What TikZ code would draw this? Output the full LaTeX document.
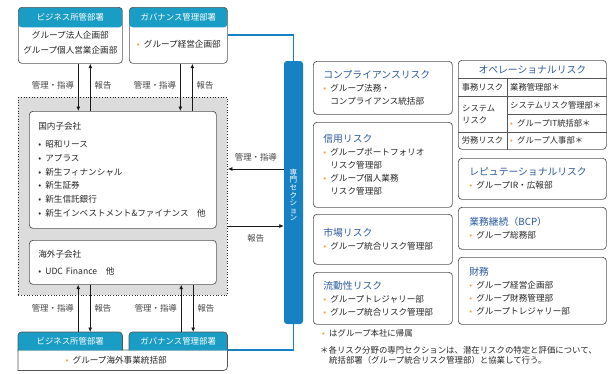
\documentclass[tikz,border=0pt]{standalone}
\usepackage{fontspec}
\setmainfont{Noto Sans CJK JP}
\usepackage{tikz}
\usetikzlibrary{arrows.meta,positioning,calc}
\definecolor{inkgray}{HTML}{262626}
\definecolor{labelgray}{HTML}{444444}
\definecolor{framegray}{HTML}{555555}
\definecolor{zonegray}{HTML}{DCDCDC}
\definecolor{headteal}{HTML}{1A9DC4}
\definecolor{barblue}{HTML}{1681C3}
\definecolor{titleblue}{HTML}{2A5A9C}
\definecolor{dotorange}{HTML}{F2A440}
\newcommand{\obul}{\makebox[7pt][l]{\textcolor{dotorange}{\textbullet}}}
\newcommand{\kbul}{\makebox[7pt][l]{\textbullet}}
\newcommand{\hang}{\hspace*{7pt}}
\newcommand{\risktitle}[1]{{\color{titleblue}\fontsize{9.8}{13}\selectfont #1}}
\tikzset{unitbox/.style={draw=framegray,fill=white,rounded corners=3.5pt,
  line width=0.7pt,inner sep=0pt,anchor=north west},
  headfill/.style={path picture={\fill[headteal] (path picture bounding box.north west)
   rectangle ([yshift=-20pt]path picture bounding box.north east);}},
  headtext/.style={text=white,font=\fontsize{8.4}{10}\selectfont,inner sep=0pt},
  bodytext/.style={text=inkgray,font=\fontsize{8.6}{15}\selectfont,align=center,inner sep=0pt},
  subbox/.style={unitbox,text width=169pt,align=left,inner xsep=9pt,
  font=\fontsize{8.6}{13.8}\selectfont,text=inkgray},
  riskbox/.style={unitbox,text width=119pt,align=left,inner xsep=10pt,
  font=\fontsize{8.6}{13}\selectfont,text=inkgray},
  rbox/.style={riskbox,text width=126pt,inner xsep=11pt},
  celltext/.style={text=inkgray,font=\fontsize{8.3}{12}\selectfont,inner sep=0pt},
  notetext/.style={text=inkgray,font=\fontsize{8.4}{10.5}\selectfont,inner sep=0pt},
  flow/.style={-{Latex[length=4.5pt,width=4pt]},line width=0.75pt,draw=black!90},
  flowlabel/.style={font=\fontsize{8.4}{10}\selectfont,text=labelgray,inner sep=4pt},
  linkline/.style={draw=barblue,line width=1.8pt}}

\begin{document}
\begin{tikzpicture}[x=1pt,y=-1pt]
 \useasboundingbox (0,0) rectangle (614,373);
 \node[unitbox,headfill,minimum width=104pt,minimum height=56pt] (bizT) at (18,7) {};
 \node[headtext] (bizTh) at ($(bizT.north)+(0,10)$) {ビジネス所管部署};
 \node[bodytext] (bizTb) at ($(bizT.center)+(0,7.5)$) {グループ法人企画部\\グループ個人営業企画部};
 \node[unitbox,headfill,minimum width=98pt,minimum height=56pt] (govT) at (129,7) {};
 \node[headtext] (govTh) at ($(govT.north)+(0,10)$) {ガバナンス管理部署};
 \node[bodytext] (govTb) at ($(govT.center)+(0.5,9)$) {\obul グループ経営企画部};

 \node[unitbox,rounded corners=0pt,draw=black!85,dotted,line width=0.9pt,fill=zonegray,
  minimum width=209pt,minimum height=198pt] (zone) at (18,97) {};
 \node[subbox,minimum height=117pt] (dom) at (29,111) {国内子会社\\[4pt]
  \kbul 昭和リース\\ \kbul アプラス\\ \kbul 新生フィナンシャル\\ \kbul 新生証券\\
  \kbul 新生信託銀行\\ \kbul 新生インベストメント\&ファイナンス　他};
 \node[subbox,minimum height=44pt] (ovs) at (29,240) {海外子会社\\[3pt]\kbul UDC Finance　他};

 \node[inner sep=0pt,minimum width=104pt,minimum height=18pt,anchor=north west] (bizB) at (18,332) {};
 \node[inner sep=0pt,minimum width=98pt,minimum height=18pt,anchor=north west] (govB) at (129,332) {};
 \node[inner sep=0pt,minimum width=209pt,minimum height=20pt,anchor=north west] (botB) at (18,350) {};
 \draw[draw=framegray,fill=white,line width=0.7pt] (botB.north east) -- (botB.north west)
  -- (botB.south west) [rounded corners=3.5pt] -- (botB.south east) -- (botB.north east);
 \foreach \u in {bizB,govB}
  \draw[draw=framegray,fill=headteal,line width=0.7pt] (\u.south west) [rounded corners=3.5pt]
   -- (\u.north west) -- (\u.north east) -- (\u.south east);
 \node[headtext] (bizBh) at (bizB) {ビジネス所管部署};
 \node[headtext] (govBh) at (govB) {ガバナンス管理部署};
 \node[bodytext] (botBb) at ($(botB.center)+(-6.5,0)$) {\obul グループ海外事業統括部};

 \coordinate (a1) at ($(bizT.south)+(8,0)$);
 \coordinate (a2) at ($(bizT.south)+(20,0)$);
 \coordinate (a3) at ($(govT.south)+(2,0)$);
 \coordinate (a4) at ($(govT.south)+(14,0)$);
 \draw[flow] (a1) -- (a1 |- dom.north) node[flowlabel,left,pos=.45] {管理・指導};
 \draw[flow] (a2 |- dom.north) -- (a2) node[flowlabel,right,pos=.55] {報告};
 \draw[flow] (a3) -- (a3 |- dom.north) node[flowlabel,left,pos=.45] {管理・指導};
 \draw[flow] (a4 |- dom.north) -- (a4) node[flowlabel,right,pos=.55] {報告};
 \coordinate (b1) at ($(bizB.north)+(8,0)$);
 \coordinate (b2) at ($(bizB.north)+(20,0)$);
 \coordinate (b3) at ($(govB.north)+(3,0)$);
 \coordinate (b4) at ($(govB.north)+(15,0)$);
 \draw[flow] (b1) -- (b1 |- ovs.south) node[flowlabel,left,midway] {管理・指導};
 \draw[flow] (b2 |- ovs.south) -- (b2) node[flowlabel,right,midway] {報告};
 \draw[flow] (b3) -- (b3 |- ovs.south) node[flowlabel,left,midway] {管理・指導};
 \draw[flow] (b4 |- ovs.south) -- (b4) node[flowlabel,right,midway] {報告};

 \node[inner sep=0pt,minimum width=19pt,minimum height=263pt] (barpos) at (293.5,192.5) {};
 \draw[linkline] (govT.east) -| (barpos.north);
 \draw[linkline] (barpos.south) |- (botB.north east);
 \node[fill=barblue,rounded corners=3pt,inner sep=0pt,minimum width=19pt,minimum height=263pt]
  (bar) at (barpos) {};
 \node[text=white,font=\fontsize{7.6}{7.6}\selectfont,align=center,inner sep=0pt] (barlbl)
  at ($(bar.center)+(0,2.5)$) {専\\門\\セ\\ク\\シ\\ョ\\ン};
 \coordinate (m1) at ($(bar.west)+(0,-23.5)$);
 \coordinate (m2) at ($(bar.west)+(0,33.5)$);
 \draw[flow] (m1) -- (m1 -| zone.east) node[flowlabel,above=3pt,midway] {管理・指導};
 \draw[flow] (m2 -| zone.east) -- (m2) node[flowlabel,below=4pt,midway] {報告};

 \node[riskbox,minimum height=53pt] (cmp) at (313,61) {\risktitle{コンプライアンスリスク}\\
  \obul グループ法務・\\ \hang コンプライアンス統括部};
 \node[riskbox,minimum height=85pt] (crd) at (313,122) {\risktitle{信用リスク}\\
  \obul グループポートフォリオ\\ \hang リスク管理部\\ \obul グループ個人業務\\ \hang リスク管理部};
 \node[riskbox,minimum height=50pt] (mkt) at (313,214) {\risktitle{市場リスク}\\
  \obul グループ統合リスク管理部};
 \node[riskbox,minimum height=52pt] (liq) at (313,272) {\risktitle{流動性リスク}\\
  \obul グループトレジャリー部\\ \obul グループ統合リスク管理部};

 \node[unitbox,minimum width=148pt,minimum height=89pt] (opr) at (458,60) {};
 \node[text=titleblue,font=\fontsize{9.8}{12}\selectfont,inner sep=0pt] (oprt)
  at ($(opr.north)+(0,10)$) {オペレーショナルリスク};
 \draw[draw=framegray,line width=0.7pt] ($(opr.north west)+(0,18)$) -- ($(opr.north east)+(0,18)$)
  ($(opr.north west)+(0,36)$) -- ($(opr.north east)+(0,36)$)
  ($(opr.north west)+(0,72)$) -- ($(opr.north east)+(0,72)$)
  ($(opr.north west)+(49,54)$) -- ($(opr.north east)+(0,54)$)
  ($(opr.north west)+(49,18)$) -- ($(opr.south west)+(49,0)$);
 \node[celltext] (jim) at ($(opr.north west)+(24.5,27)$) {事務リスク};
 \node[celltext,align=left] (sys) at ($(opr.north west)+(4,54)$) [anchor=west] {システム\\リスク};
 \node[celltext] (rom) at ($(opr.north west)+(24.5,80.5)$) {労務リスク};
 \node[celltext,anchor=west] (jimd) at ($(opr.north west)+(52,27)$) {業務管理部＊};
 \node[celltext,anchor=west] (sysd) at ($(opr.north west)+(52,45)$) {システムリスク管理部＊};
 \node[celltext,anchor=west] (itd) at ($(opr.north west)+(52,63)$) {\obul グループIT統括部＊};
 \node[celltext,anchor=west] (romd) at ($(opr.north west)+(52,80.5)$) {\obul グループ人事部＊};

 \node[rbox,minimum height=41pt] (rep) at (458,158) {\risktitle{レピュテーショナルリスク}\\
  \obul グループIR・広報部};
 \node[rbox,minimum height=42pt] (bcp) at (458,207) {\risktitle{業務継続（BCP）}\\
  \obul グループ総務部};
 \node[rbox,minimum height=67pt] (fin) at (458,257) {\risktitle{財務}\\
  \obul グループ経営企画部\\ \obul グループ財務管理部\\ \obul グループトレジャリー部};

 \node[notetext,anchor=west] (own) at (322,333) {\obul はグループ本社に帰属};
 \node[notetext,anchor=north west,align=left] (foot) at (320,346)
  {＊各リスク分野の専門セクションは、潜在リスクの特定と評価について、\\
  \hspace*{9pt}統括部署（グループ統合リスク管理部）と協業して行う。};
\end{tikzpicture}
\end{document}
